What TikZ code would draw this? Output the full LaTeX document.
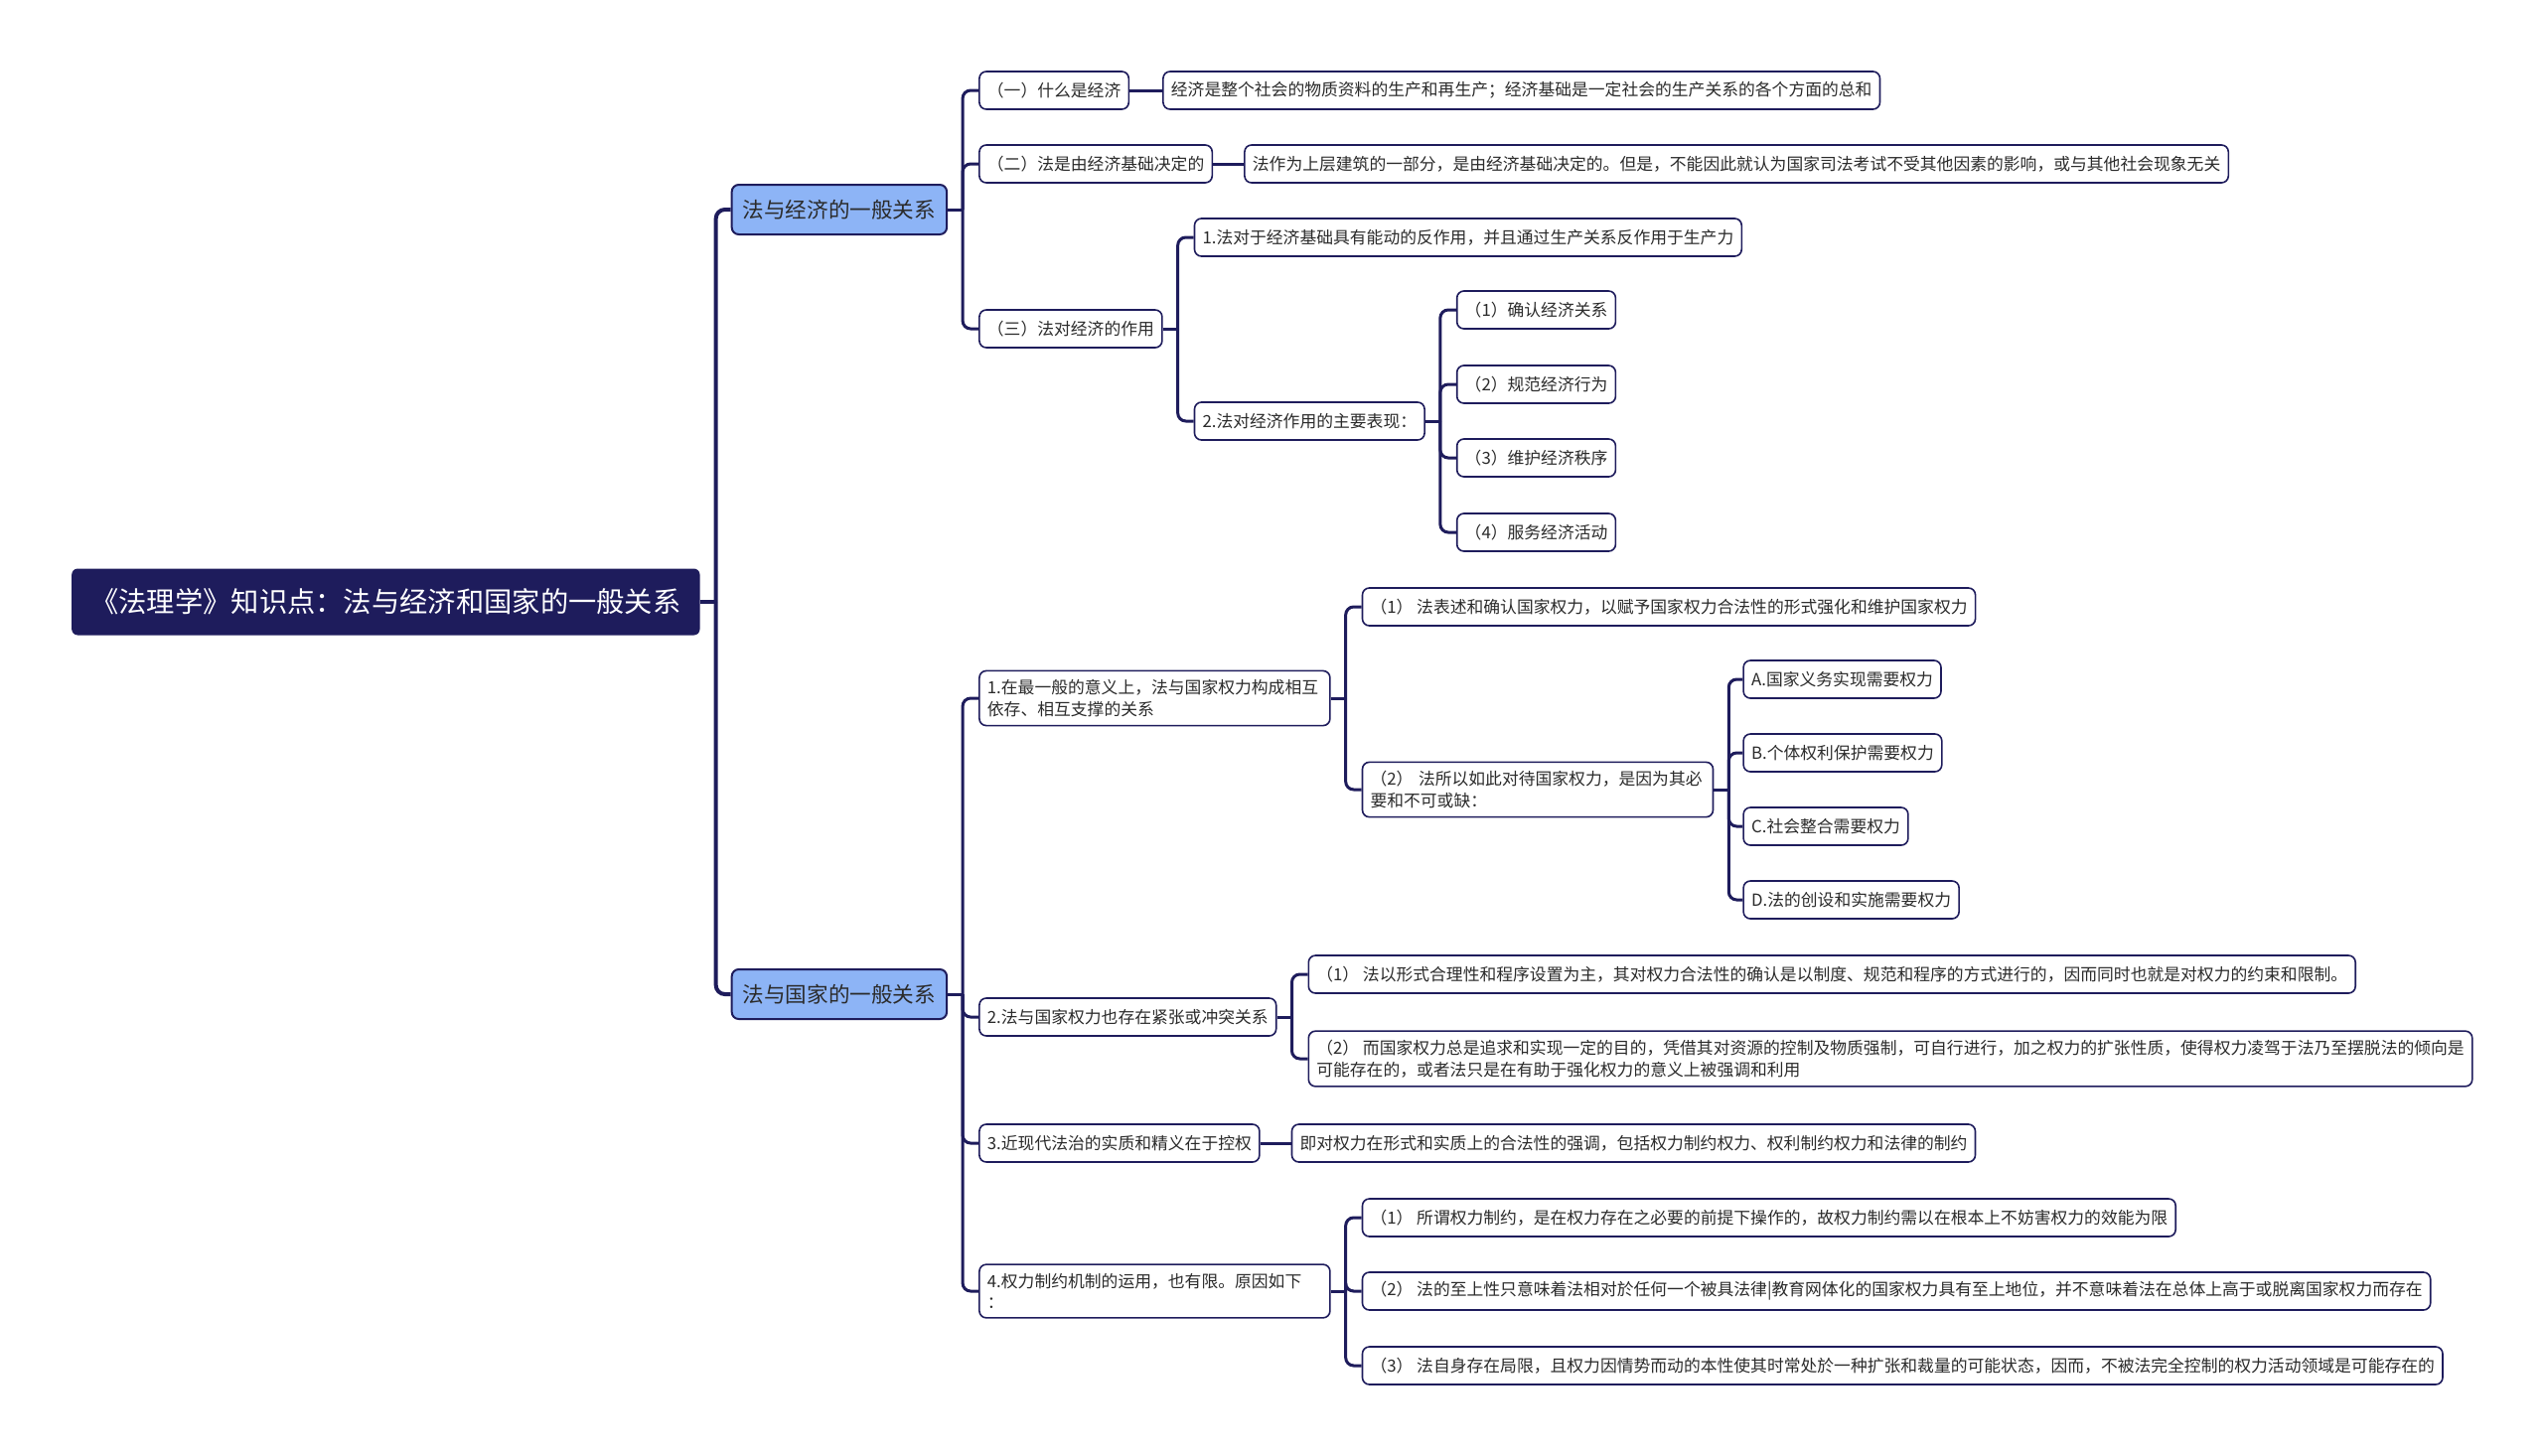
\documentclass[tikz,border=0pt]{standalone}
\usepackage{fontspec}
\newfontfamily\cjk{Noto Sans CJK SC}
\usetikzlibrary{positioning}
\definecolor{mapnavy}{HTML}{1E1C5C}
\definecolor{mapblue}{HTML}{8DB4F6}
\definecolor{maptext}{HTML}{2B2B2B}

\tikzset{
  rootbox/.style={fill=mapnavy, text=white, rounded corners=6pt, inner xsep=19pt,
    minimum height=67pt, font=\fontsize{28.3}{33}\selectfont\cjk},
  topicbox/.style={draw=mapnavy, line width=2pt, fill=mapblue, text=maptext,
    rounded corners=7pt, inner xsep=11pt, minimum height=50pt,
    font=\fontsize{21.6}{26}\selectfont\cjk},
  leafbox/.style={draw=mapnavy, line width=1.6pt, fill=white, text=maptext,
    rounded corners=7pt, inner xsep=8pt, inner ysep=9pt, minimum height=38pt,
    align=left, font=\fontsize{16.8}{21.5}\selectfont\cjk},
  wrapbox/.style={leafbox, text width=337pt},
  trunk/.style={draw=mapnavy, line width=4pt},
  twig/.style={draw=mapnavy, line width=3pt},
}

\begin{document}
\begin{tikzpicture}[x=1pt, y=-1pt]
\useasboundingbox (0,0) rectangle (2560,1465);

\node[rootbox, anchor=west] (root) at (72,606) {《法理学》知识点：法与经济和国家的一般关系};
\node[topicbox, right=31pt of root, yshift=395pt] (b1) {法与经济的一般关系};
\node[topicbox, right=31pt of root, yshift=-395pt] (b2) {法与国家的一般关系};

% economy
\node[leafbox, right=31pt of b1, yshift=120pt] (e1) {（一）什么是经济};
\node[leafbox, right=33pt of e1] (e1a) {经济是整个社会的物质资料的生产和再生产；经济基础是一定社会的生产关系的各个方面的总和};
\node[leafbox, right=31pt of b1, yshift=46pt] (e2) {（二）法是由经济基础决定的};
\node[leafbox, right=31pt of e2] (e2a) {法作为上层建筑的一部分，是由经济基础决定的。但是，不能因此就认为国家司法考试不受其他因素的影响，或与其他社会现象无关};
\node[leafbox, right=31pt of b1, yshift=-120pt] (e3) {（三）法对经济的作用};
\node[leafbox, right=31pt of e3, yshift=92pt] (e31) {1.法对于经济基础具有能动的反作用，并且通过生产关系反作用于生产力};
\node[leafbox, right=31pt of e3, yshift=-93pt] (e32) {2.法对经济作用的主要表现：};
\node[leafbox, right=31pt of e32, yshift=112pt] (e321) {（1）确认经济关系};
\node[leafbox, right=31pt of e32, yshift=37pt] (e322) {（2）规范经济行为};
\node[leafbox, right=31pt of e32, yshift=-37pt] (e323) {（3）维护经济秩序};
\node[leafbox, right=31pt of e32, yshift=-112pt] (e324) {（4）服务经济活动};

% state
\node[wrapbox, right=31pt of b2, yshift=298pt] (s1) {1.在最一般的意义上，法与国家权力构成相互\\依存、相互支撑的关系};
\node[leafbox, right=31pt of s1, yshift=92pt] (s11) {（1） 法表述和确认国家权力，以赋予国家权力合法性的形式强化和维护国家权力};
\node[wrapbox, right=31pt of s1, yshift=-92pt] (s12) {（2） 法所以如此对待国家权力，是因为其必\\要和不可或缺：};
\node[leafbox, right=29pt of s12, yshift=111pt] (s12a) {A.国家义务实现需要权力};
\node[leafbox, right=29pt of s12, yshift=37pt] (s12b) {B.个体权利保护需要权力};
\node[leafbox, right=29pt of s12, yshift=-37pt] (s12c) {C.社会整合需要权力};
\node[leafbox, right=29pt of s12, yshift=-111pt] (s12d) {D.法的创设和实施需要权力};
\node[leafbox, right=31pt of b2, yshift=-23pt] (s2) {2.法与国家权力也存在紧张或冲突关系};
\node[leafbox, right=31pt of s2, yshift=43pt] (s21) {（1） 法以形式合理性和程序设置为主，其对权力合法性的确认是以制度、规范和程序的方式进行的，因而同时也就是对权力的约束和限制。};
\node[leafbox, right=31pt of s2, yshift=-42pt] (s22) {（2） 而国家权力总是追求和实现一定的目的，凭借其对资源的控制及物质强制，可自行进行，加之权力的扩张性质，使得权力凌驾于法乃至摆脱法的倾向是\\可能存在的，或者法只是在有助于强化权力的意义上被强调和利用};
\node[leafbox, right=31pt of b2, yshift=-150pt] (s3) {3.近现代法治的实质和精义在于控权};
\node[leafbox, right=31pt of s3] (s3a) {即对权力在形式和实质上的合法性的强调，包括权力制约权力、权利制约权力和法律的制约};
\node[wrapbox, right=31pt of b2, yshift=-299pt] (s4) {4.权力制约机制的运用，也有限。原因如下\\：};
\node[leafbox, right=31pt of s4, yshift=74pt] (s41) {（1） 所谓权力制约，是在权力存在之必要的前提下操作的，故权力制约需以在根本上不妨害权力的效能为限};
\node[leafbox, right=31pt of s4] (s42) {（2） 法的至上性只意味着法相对於任何一个被具法律|教育网体化的国家权力具有至上地位，并不意味着法在总体上高于或脱离国家权力而存在};
\node[leafbox, right=31pt of s4, yshift=-75pt] (s43) {（3） 法自身存在局限，且权力因情势而动的本性使其时常处於一种扩张和裁量的可能状态，因而，不被法完全控制的权力活动领域是可能存在的};

% connectors
\draw[trunk] (root.east) -- ++(16pt,0);
\foreach \c in {b1,b2}
  \draw[trunk, rounded corners=9pt] (root.east) ++(16pt,0) |- (\c.west);

\foreach \p/\kids in {b1/{e1,e2,e3}, e3/{e31,e32}, e32/{e321,e322,e323,e324},
    b2/{s1,s2,s3,s4}, s1/{s11,s12}, s12/{s12a,s12b,s12c,s12d}, s2/{s21,s22},
    s4/{s41,s42,s43}} {
  \draw[twig] (\p.east) -- ++(15pt,0);
  \foreach \c in \kids
    \draw[twig, rounded corners=8pt] (\p.east) ++(15pt,0) |- (\c.west);
}

\draw[twig] (e1.east) -- (e1a.west);
\draw[twig] (e2.east) -- (e2a.west);
\draw[twig] (s3.east) -- (s3a.west);
\end{tikzpicture}
\end{document}
